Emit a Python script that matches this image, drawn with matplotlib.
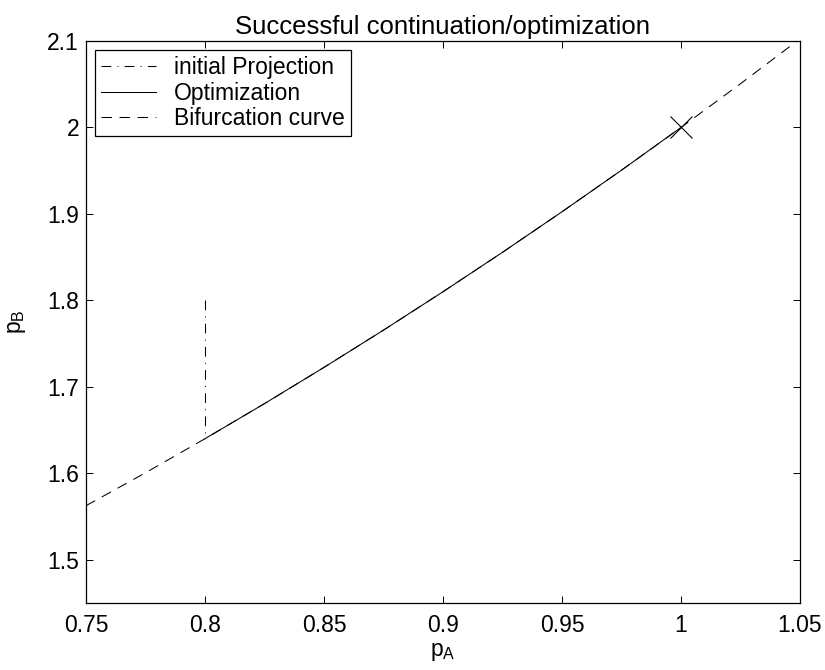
import matplotlib
matplotlib.use("Agg")
import matplotlib.pyplot as plt

# Bifurcation curve p_B(p_A)
bif_pa = [0.75, 0.775, 0.8, 0.825, 0.85, 0.875, 0.9, 0.925, 0.95, 0.975, 1.0, 1.025, 1.05]
bif_pb = [1.5625, 1.6006, 1.64, 1.6806, 1.7225, 1.7656, 1.81, 1.8556, 1.9025, 1.9506, 2.0, 2.0506, 2.1025]

# Optimization path along the curve
opt_pa = [0.8, 0.825, 0.85, 0.875, 0.9, 0.925, 0.95, 0.975, 1.0]
opt_pb = [1.64, 1.6806, 1.7225, 1.7656, 1.81, 1.8556, 1.9025, 1.9506, 2.0]

# Initial projection onto the curve
proj_pa = [0.8, 0.8]
proj_pb = [1.8, 1.645]

# Optimum
opt_point = (1.0, 2.0)

x_ticks = [0.75, 0.8, 0.85, 0.9, 0.95, 1.0, 1.05]
x_labels = ["0.75", "0.8", "0.85", "0.9", "0.95", "1", "1.05"]
y_ticks = [1.5, 1.6, 1.7, 1.8, 1.9, 2.0, 2.1]
y_labels = ["1.5", "1.6", "1.7", "1.8", "1.9", "2", "2.1"]

plt.rcParams["font.family"] = ["Liberation Sans", "DejaVu Sans"]
plt.rcParams["mathtext.fontset"] = "custom"
plt.rcParams["mathtext.rm"] = "Liberation Sans"
plt.rcParams["mathtext.it"] = "Liberation Sans"
plt.rcParams["lines.scale_dashes"] = False

fs = 16.5

fig = plt.figure(figsize=(8.25, 6.7), dpi=100)
ax = fig.add_axes([0.1042, 0.1, 0.8655, 0.8388])

lw = 0.75
ax.plot(proj_pa, proj_pb, color="black", lw=lw, dashes=[7, 4.5, 0.7, 4.5],
        label="initial Projection")
ax.plot(opt_pa, opt_pb, color="black", lw=lw, linestyle="-", label="Optimization")
ax.plot(bif_pa, bif_pb, color="black", lw=lw, dashes=[7.5, 5.5],
        label="Bifurcation curve")
ax.plot([opt_point[0]], [opt_point[1]], marker="x", color="black",
        markersize=16, markeredgewidth=0.8, linestyle="none")

ax.set_xlim(0.75, 1.05)
ax.set_ylim(1.45, 2.1)
ax.set_xticks(x_ticks)
ax.set_xticklabels(x_labels)
ax.set_yticks(y_ticks)
ax.set_yticklabels(y_labels)
ax.tick_params(direction="in", length=5, width=0.7, top=True, right=True,
               labelsize=fs, colors="black")
ax.tick_params(axis="x", pad=8)
ax.tick_params(axis="y", pad=5)
for s in ax.spines.values():
    s.set_linewidth(0.9)

ax.set_xlabel(r"$\mathregular{p_A}$", fontsize=fs, labelpad=2)
ax.set_ylabel(r"$\mathregular{p_B}$", fontsize=fs, labelpad=14)
ax.set_title("Successful continuation/optimization", fontsize=18.5, pad=5)

leg = ax.legend(loc="upper left", fontsize=fs, frameon=True, fancybox=False,
                edgecolor="black", framealpha=1, borderaxespad=0.4,
                handlelength=2.4, handletextpad=0.8, borderpad=0.25,
                labelspacing=0.12)
leg.get_frame().set_linewidth(0.9)

fig.savefig("out.png", dpi=100)
